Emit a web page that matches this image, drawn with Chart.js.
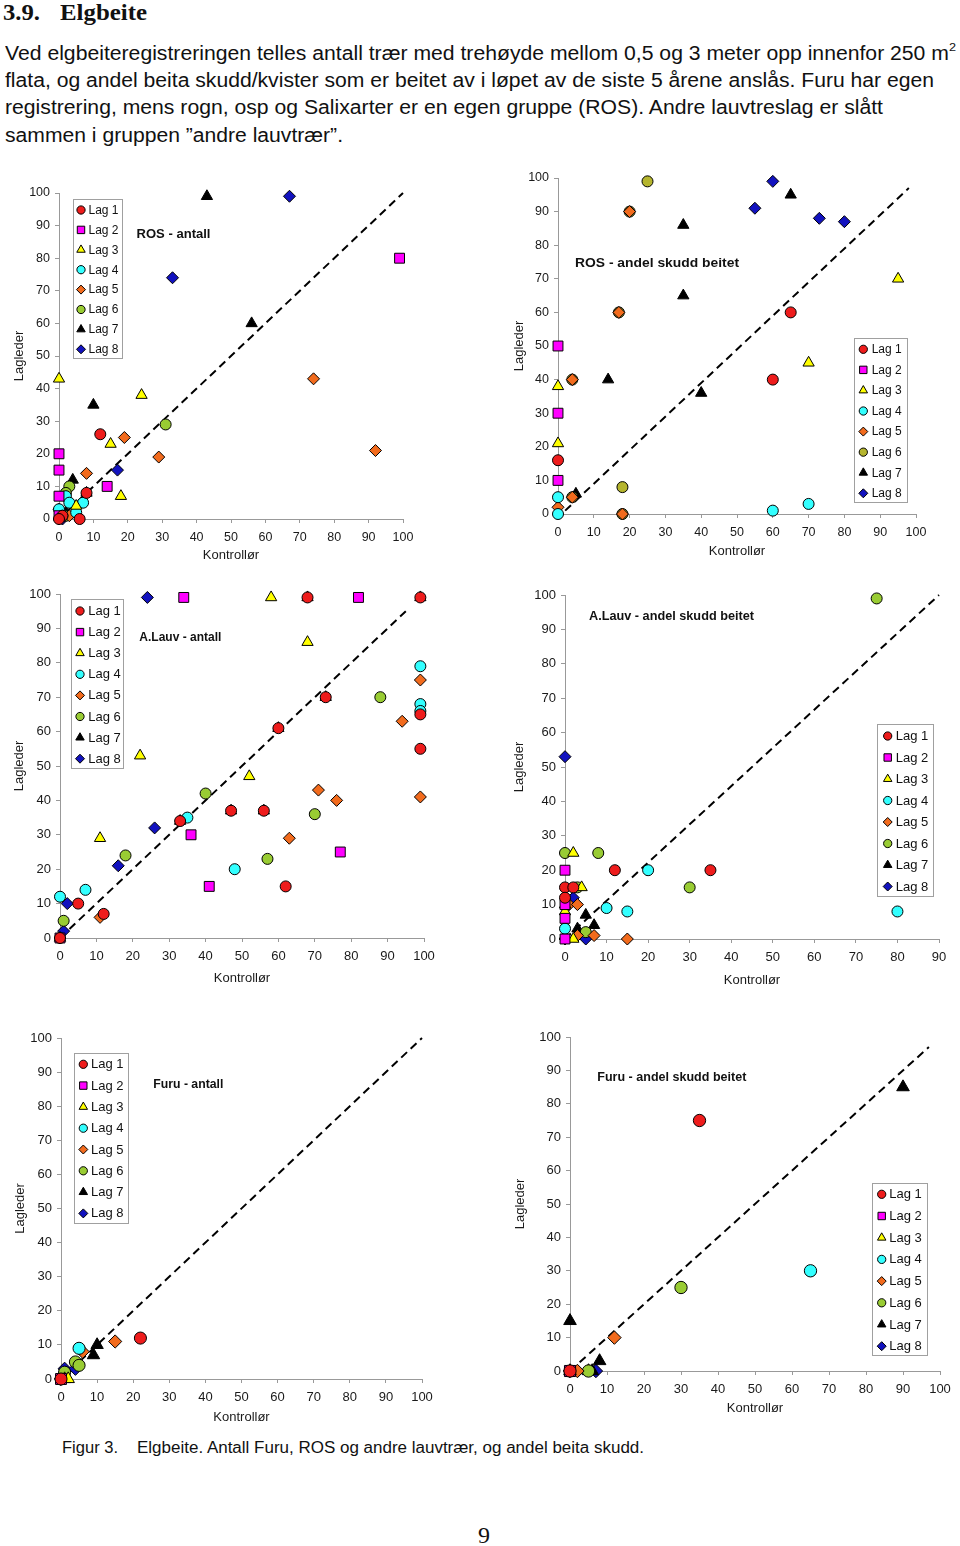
<!DOCTYPE html>
<html><head><meta charset="utf-8">
<script src="https://cdn.jsdelivr.net/npm/chart.js@4/dist/chart.umd.min.js"></script>
<style>
body{margin:0;width:960px;height:1546px;position:relative;background:#fff;overflow:hidden;font-family:"Liberation Sans",Arial,sans-serif;color:#111;}
.t{position:absolute;white-space:nowrap;transform-origin:0 50%;display:inline-block;}
.serif{font-family:"Liberation Serif","Times New Roman",serif;}
canvas{position:absolute;}
sup{font-size:60%;vertical-align:0;position:relative;top:-0.75em;}
</style></head>
<body>
<div class="t serif" data-w="37" style="left:3px;top:-2px;font-size:24px;line-height:28px;font-weight:bold;">3.9.</div>
<div class="t serif" data-w="87" style="left:60px;top:-2px;font-size:24px;line-height:28px;font-weight:bold;">Elgbeite</div>
<div class="t" data-w="951" style="left:5px;top:40px;font-size:19.5px;line-height:26px;">Ved elgbeiteregistreringen telles antall trær med trehøyde mellom 0,5 og 3 meter opp innenfor 250 m<sup>2</sup></div>
<div class="t" data-w="929" style="left:5px;top:67px;font-size:19.5px;line-height:26px;">flata, og andel beita skudd/kvister som er beitet av i løpet av de siste 5 årene anslås. Furu har egen</div>
<div class="t" data-w="878" style="left:5px;top:94px;font-size:19.5px;line-height:26px;">registrering, mens rogn, osp og Salixarter er en egen gruppe (ROS). Andre lauvtreslag er slått</div>
<div class="t" data-w="338" style="left:5px;top:122px;font-size:19.5px;line-height:26px;">sammen i gruppen ”andre lauvtrær”.</div>
<div class="t" data-w="56" style="left:62px;top:1438px;font-size:16px;line-height:20px;">Figur 3.</div>
<div class="t" data-w="507" style="left:137px;top:1438px;font-size:16px;line-height:20px;">Elgbeite. Antall Furu, ROS og andre lauvtrær, og andel beita skudd.</div>
<div class="t serif" style="left:478px;top:1521px;font-size:24px;line-height:28px;">9</div>

<canvas id="c1"></canvas><canvas id="c2"></canvas><canvas id="c3"></canvas>
<canvas id="c4"></canvas><canvas id="c5"></canvas><canvas id="c6"></canvas>

<script>
// ---------- DATA ----------
const lagLabels = ['Lag 1','Lag 2','Lag 3','Lag 4','Lag 5','Lag 6','Lag 7','Lag 8'];
const ticks100 = [0,10,20,30,40,50,60,70,80,90,100];
const ticks90 = [0,10,20,30,40,50,60,70,80,90];
const yTicks = [0,10,20,30,40,50,60,70,80,90,100];

// each entry: [Kontrollør, Lagleder], one list per Lag 1..8
const rosAntall = [
  [[12,26],[8,8],[6,0],[1,1],[0,0]],
  [[99,80],[0,20],[0,15],[14,10],[0,7],[0,1]],
  [[0,43],[24,38],[15,23],[18,7],[5,4]],
  [[2,7],[3,5],[7,5],[5,2],[0,3],[1,1]],
  [[74,43],[92,21],[19,25],[29,19],[8,14],[3,1]],
  [[31,29],[3,10],[2,8],[2,1]],
  [[43,99],[56,60],[10,35],[4,12],[8,8],[2,2]],
  [[67,99],[33,74],[17,15],[0,3],[0,0],[1,0]]
];
const rosAndel = [
  [[65,60],[60,40],[0,16]],
  [[0,50],[0,30],[0,10]],
  [[95,70],[70,45],[0,38],[0,21]],
  [[60,1],[70,3],[0,5],[0,0]],
  [[20,90],[17,60],[4,40],[4,5],[0,2],[18,0]],
  [[25,99],[18,8],[20,90],[17,60],[4,40],[4,5],[18,0]],
  [[65,95],[35,86],[35,65],[14,40],[40,36],[5,6]],
  [[60,99],[55,91],[73,88],[80,87]]
];
const lauvAntall = [
  [[68,99],[99,99],[73,70],[60,61],[47,37],[56,37],[33,34],[99,65],[99,55],[62,15],[5,10],[12,7],[0,0]],
  [[34,99],[82,99],[36,30],[77,25],[41,15],[0,0]],
  [[58,99],[68,86],[22,53],[52,47],[11,29]],
  [[99,79],[99,68],[99,66],[35,35],[48,20],[7,14],[0,12]],
  [[99,75],[94,63],[71,43],[76,40],[99,41],[63,29],[11,6]],
  [[88,70],[40,42],[70,36],[57,23],[18,24],[1,5]],
  [[68,99],[99,99],[73,70],[60,61],[47,37],[56,37],[33,34],[0,0]],
  [[24,99],[26,32],[16,21],[2,10],[1,2],[0,0]]
];
const lauvAndel = [
  [[12,20],[35,20],[0,15],[2,15],[0,12]],
  [[0,20],[0,10],[0,6],[0,0]],
  [[2,25],[4,15],[0,10],[0,8],[2,0]],
  [[20,20],[10,9],[15,8],[80,8],[0,3]],
  [[1,10],[3,10],[7,1],[15,0],[3,1]],
  [[75,99],[0,25],[8,25],[30,15],[3,15],[5,2]],
  [[5,7],[7,4],[3,3],[0,1]],
  [[0,53],[2,12],[0,0],[5,0]]
];
const furuAntall = [
  [[22,12],[0,0]],
  [[0,0]],
  [[1,0],[2,0]],
  [[5,9]],
  [[6,8],[15,11]],
  [[4,5],[5,4],[1,2]],
  [[10,10],[9,7],[0,1]],
  [[1,3],[4,3],[0,0]]
];
const furuAndel = [
  [[35,75],[0,0]],
  [[0,0]],
  [[0,0]],
  [[65,30]],
  [[12,10],[2,0]],
  [[30,25],[5,0]],
  [[90,85],[0,15],[8,3],[5,0],[6,0]],
  [[0,0],[7,0]]
];
// 1:1 reference lines (dashed)
const diagRosAntall = [[0,0],[100,100]];
const diagRosAndel = [[2,1],[98,97]];
const diagLauvAntall = [[0,0],[95,95]];
const diagLauvAndel = [[0,0],[90,100]];
const diagFuruAntall = [[0,0],[100,100]];
const diagFuruAndel = [[0,0],[97,97]];

// ---------- STYLE / LAYOUT ----------
const FAM = '"Liberation Sans", Arial, sans-serif';
const markerStyles = [
  {ps:'circle',   c:'#ee1c1c', r:5.5},
  {ps:'rect',     c:'#ff00ff', r:7},
  {ps:'triangle', c:'#ffff00', r:6.5},
  {ps:'circle',   c:'#33ffff', r:5.5},
  {ps:'rectRot',  c:'#f26b1d', r:6},
  {ps:'circle',   c:'#99cc33', r:5.5},
  {ps:'triangle', c:'#000000', r:6.5},
  {ps:'rectRot',  c:'#1212bf', r:6}
];
const charts = [
  {id:'c1', data:rosAntall, diag:diagRosAntall, xTicks:ticks100, pl:59, pr:403, pt:193, pb:519, yTitleX:20, xTitleY:555,
   title:'ROS - antall', tX:136.5, tY:234, tW:74, fs:12.5, ms:1.0,
   leg:{x:73, y:199, w:49, h:159, mx:81, tx:88.5, y0:210, step:19.9, font:12}, lag6:'#99cc33'},
  {id:'c2', data:rosAndel, diag:diagRosAndel, xTicks:ticks100, pl:558, pr:916, pt:178, pb:514, yTitleX:520, xTitleY:551,
   title:'ROS - andel skudd beitet', tX:575, tY:263.3, tW:164, fs:12.5, ms:1.0,
   leg:{x:854, y:338, w:53, h:164, mx:863.3, tx:871.7, y0:349.3, step:20.57, font:12}, lag6:'#b5b52e'},
  {id:'c3', data:lauvAntall, diag:diagLauvAntall, xTicks:ticks100, pl:60, pr:424, pt:594, pb:938, yTitleX:20, xTitleY:978,
   title:'A.Lauv - antall', tX:139.3, tY:637.7, tW:82, fs:13, ms:1.0,
   leg:{x:71, y:599, w:52, h:169, mx:80, tx:88.3, y0:611, step:21.1, font:13}, lag6:'#99cc33'},
  {id:'c4', data:lauvAndel, diag:diagLauvAndel, xTicks:ticks90, pl:565, pr:939, pt:595, pb:939, yTitleX:520, xTitleY:980,
   title:'A.Lauv - andel skudd beitet', tX:589, tY:616.7, tW:165, fs:13, ms:1.0,
   leg:{x:877, y:724, w:56, h:172, mx:887.7, tx:895.7, y0:736, step:21.5, font:13}, lag6:'#99cc33'},
  {id:'c5', data:furuAntall, diag:diagFuruAntall, xTicks:ticks100, pl:61, pr:422, pt:1038, pb:1379, yTitleX:21, xTitleY:1417,
   title:'Furu - antall', tX:153.3, tY:1084.3, tW:70, fs:13, ms:1.1,
   leg:{x:74, y:1053, w:54, h:170, mx:83.3, tx:91, y0:1064.3, step:21.3, font:13}, lag6:'#99cc33'},
  {id:'c6', data:furuAndel, diag:diagFuruAndel, xTicks:ticks100, pl:570, pr:940, pt:1037, pb:1371, yTitleX:521, xTitleY:1408,
   title:'Furu - andel skudd beitet', tX:597.3, tY:1077.7, tW:149, fs:13, ms:1.12,
   leg:{x:872, y:1183, w:55, h:172, mx:881.7, tx:889.3, y0:1194.3, step:21.7, font:13}, lag6:'#99cc33'}
];

// fit text widths
document.querySelectorAll('.t[data-w]').forEach(el => {
  const w = el.getBoundingClientRect().width;
  const target = parseFloat(el.dataset.w);
  if (w > 0) el.style.transform = 'scaleX(' + (target / w) + ')';
});

function drawMarker(ctx, ps, r, x, y) {
  if (Chart.helpers && Chart.helpers.drawPoint) {
    Chart.helpers.drawPoint(ctx, {pointStyle: ps, radius: r, rotation: 0, borderWidth: 1}, x, y);
    return;
  }
  ctx.beginPath(); ctx.arc(x, y, r, 0, Math.PI * 2); ctx.fill(); ctx.stroke();
}

const overlayPlugin = {
  id: 'overlay',
  afterDatasetsDraw(chart, args, o) {
    const ctx = chart.ctx;
    ctx.save();
    // in-plot title
    ctx.font = 'bold 13px ' + FAM;
    ctx.fillStyle = '#111';
    ctx.textBaseline = 'middle';
    const tw = ctx.measureText(o.title).width;
    ctx.translate(o.tX, o.tY);
    ctx.scale(o.tW / tw, 1);
    ctx.fillText(o.title, 0, 0);
    ctx.restore();
    // legend box
    const L = o.leg;
    ctx.save();
    ctx.fillStyle = '#fff';
    ctx.fillRect(L.x, L.y, L.w, L.h);
    ctx.strokeStyle = '#a0a0a0';
    ctx.lineWidth = 1;
    ctx.strokeRect(Math.round(L.x) + 0.5, Math.round(L.y) + 0.5, Math.round(L.w), Math.round(L.h));
    ctx.font = L.font + 'px ' + FAM;
    ctx.textBaseline = 'middle';
    chart.data.datasets.slice(0, 8).forEach((ds, i) => {
      const y = L.y0 + i * L.step;
      ctx.fillStyle = ds.backgroundColor;
      ctx.strokeStyle = '#000';
      ctx.lineWidth = 1;
      drawMarker(ctx, ds.pointStyle, markerStyles[i].r * 0.75, L.mx, y);
      ctx.fillStyle = '#111';
      ctx.fillText(ds.label, L.tx, y + 0.5);
    });
    ctx.restore();
  }
};

charts.forEach(C => {
  const left = C.yTitleX - 8;
  const top = C.pt - 15;
  const width = C.pr + 20 - left;
  const bottom = C.xTitleY + 8;
  const height = bottom - top;
  const Wy = C.pl - left;
  const Hx = bottom - C.pb;
  const cv = document.getElementById(C.id);
  cv.width = width; cv.height = height;
  cv.style.left = left + 'px'; cv.style.top = top + 'px';
  cv.style.width = width + 'px'; cv.style.height = height + 'px';

  const datasets = C.data.map((pts, i) => {
    const s = markerStyles[i];
    const col = i === 5 ? C.lag6 : s.c;
    const r = s.r * C.ms;
    return {
      label: lagLabels[i],
      data: pts.map(p => ({x: p[0], y: p[1]})),
      pointStyle: s.ps, pointRadius: r, pointHoverRadius: r,
      backgroundColor: col, borderColor: '#000', borderWidth: 1, pointBorderWidth: 1,
      showLine: false, clip: false
    };
  });
  datasets.push({
    label: 'diag',
    data: C.diag.map(p => ({x: p[0], y: p[1]})),
    showLine: true, pointRadius: 0, pointHoverRadius: 0,
    borderColor: '#000', borderWidth: 2, borderDash: [8, 5], fill: false, clip: false
  });

  const xMax = C.xTicks[C.xTicks.length - 1];
  const tickFont = {size: C.fs, family: FAM};
  new Chart(cv, {
    type: 'scatter',
    data: {datasets},
    options: {
      responsive: false, animation: false, devicePixelRatio: 1,
      layout: {padding: {left: 0, top: 15, right: 20, bottom: 0}},
      plugins: {
        legend: {display: false}, tooltip: {enabled: false},
        overlay: {
          title: C.title, tX: C.tX - left, tY: C.tY - top, tW: C.tW,
          leg: {x: C.leg.x - left, y: C.leg.y - top, w: C.leg.w, h: C.leg.h, mx: C.leg.mx - left,
                tx: C.leg.tx - left, y0: C.leg.y0 - top, step: C.leg.step, font: C.leg.font}
        }
      },
      scales: {
        x: {
          type: 'linear', min: 0, max: xMax,
          afterFit: s => { s.height = Hx; },
          afterBuildTicks: s => { s.ticks = C.xTicks.map(v => ({value: v})); },
          ticks: {font: tickFont, color: '#1a1a1a', padding: 7, maxRotation: 0, autoSkip: false},
          grid: {drawOnChartArea: false, drawTicks: true, tickLength: 4, color: '#999', tickColor: '#999'},
          border: {display: true, color: '#999', width: 1},
          title: {display: true, text: 'Kontrollør', font: {size: 13, family: FAM}, color: '#1a1a1a', padding: 0}
        },
        y: {
          type: 'linear', min: 0, max: 100,
          afterFit: s => { s.width = Wy; },
          afterBuildTicks: s => { s.ticks = yTicks.map(v => ({value: v})); },
          ticks: {font: tickFont, color: '#1a1a1a', padding: 5, autoSkip: false},
          grid: {drawOnChartArea: false, drawTicks: true, tickLength: 4, color: '#999', tickColor: '#999'},
          border: {display: true, color: '#999', width: 1},
          title: {display: true, text: 'Lagleder', font: {size: 13, family: FAM}, color: '#1a1a1a', padding: 0}
        }
      }
    },
    plugins: [overlayPlugin]
  });
});
</script>
</body></html>
